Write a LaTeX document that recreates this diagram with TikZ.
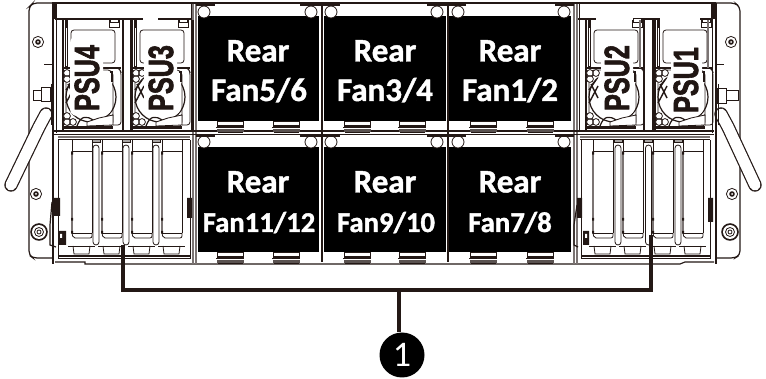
\documentclass[tikz,border=0pt]{standalone}
\usepackage{fontspec}
\setmainfont{Carlito}[BoldFeatures={FakeBold=1.2}]
\newfontfamily\psufont{Liberation Sans}[BoldFeatures={FakeBold=2.2}]
\definecolor{ink}{HTML}{231815}
\tikzset{
  thin ink/.style={draw=ink,line width=0.8pt},
  mid ink/.style={draw=ink,line width=1.2pt},
  grey ink/.style={draw=ink!60,line width=1.3pt},
  fanbox/.style={fill=black,draw=none,inner sep=0pt,minimum width=#1,minimum height=105pt,text=white},
  fantext/.style={fill=none,text=white,inner sep=0pt,anchor=base,font=\bfseries\fontsize{#1}{#1}\selectfont},
  psulabel/.style={rotate=90,inner sep=0pt,anchor=base,text=ink!90!black,font=\psufont\bfseries\fontsize{35}{35}\selectfont},
  leader/.style={draw=ink,line width=3.2pt},
  badge/.style={circle,fill=black,text=white,inner sep=0pt,minimum size=45pt,font=\fontsize{36}{36}\selectfont}
}
% PSU detail: #1 = left edge
\newcommand{\psubay}[1]{%
\begin{scope}[xshift=#1 pt]
  \draw[mid ink] (0,20)--(0,130);
  \fill[ink] (2,20) rectangle (5,68);
  \fill[white] (3,28) rectangle (4,66);
  \draw[thin ink,rounded corners=3pt] (8,30) rectangle (52,63);
  \draw[thin ink] (46,20)--(46,27)--(56,27)--(56,20);
  \draw[thin ink] (47,18) rectangle (55,22);
  \draw[line width=1.6pt,ink] (0,68)--(58,68);
  \draw[thin ink,rounded corners=5pt] (3,70) rectangle (50,127);
  \draw[mid ink] (28,97) circle (25pt);
  \fill[white,rounded corners=8pt] (12,71) rectangle (49,115);
  \draw[mid ink] (47,72)--(49,72)--(49,82);
  \draw[thin ink,fill=white] (4,73) circle (3.4pt) (10,73) circle (3.4pt) (4,79) circle (3.4pt);
  \draw[thin ink,fill=white] (4,122) circle (3.4pt) (10,122) circle (3.4pt) (4,116) circle (3.4pt);
  \draw[line width=1.4pt,ink] (3,103)--(12,86) (5,84)--(12,98) (3,90)--(10,80);
  \draw[mid ink] (14,126) .. controls (18,115) and (24,116) .. (30,120) .. controls (38,122) and (44,118) .. (50,115);
  \draw[thin ink,fill=white] (24,122) -- (36,118) -- (50,115)--(50,125)--(24,126)--cycle;
  \draw[thin ink,rounded corners=3pt] (50,68)--(56,68)--(58,72)--(58,125)--(50,125);
  \fill[ink] (1,126) rectangle (50,129.5);
\end{scope}}
% fan clips: #1 x, #2 y
\newcommand{\fanclip}[2]{%
  \draw[thin ink,fill=white] (#1,#2) rectangle ++(26,5.5);
  \fill[ink] (#1,#2+4.5) rectangle ++(26,2);
  \draw[thin ink] (#1-1,#2+6.5)--++(28,0) (#1+1,#2+11)--++(25,0);
  \fill[ink!75] (#1,#2+8.5) rectangle ++(27,2.5);
}
% drive bay: #1 card x list, #2 slot x list
\newcommand{\cards}[2]{%
  \foreach \u in {#1}{
    \draw[thin ink] (\u,140)--(\u,233) (\u+20,140)--(\u+20,233);
    \draw[grey ink] (\u,151)--(\u,233);
    \draw[thin ink] (\u,151)--(\u+20,151);
    \draw[thin ink,rounded corners=2pt] (\u,233)--(\u+1,238)--(\u+20,238)--(\u+20,233);
    \draw[thin ink] (\u,233)--(\u+20,233);
    \fill[ink] (\u-1,152) rectangle ++(2.2,2.6) (\u-1,218) rectangle ++(2.2,2.6) (\u-1,231) rectangle ++(2.2,2.6);
    \draw[thin ink] (\u-4,246)--(\u+23,246);
    \draw[thin ink] (\u+1,246)--(\u+2,254)--(\u+17,254)--(\u+18,246);
  }
  \foreach \u in {#2}{
    \draw[thin ink] (\u,148) arc[start angle=180,end angle=0,radius=3pt] -- (\u+6,242) arc[start angle=0,end angle=-180,radius=3pt] -- cycle;
    \draw[thin ink,fill=ink!40] (\u-1,139) rectangle ++(8,3);
  }
}
\begin{document}
\begin{tikzpicture}[x=1pt,y=-1pt]
\useasboundingbox (0,0) rectangle (766,379);
\fill[white] (0,0) rectangle (766,379);
% flanges
\draw[mid ink,rounded corners=4pt] (52,3)--(33,3)--(29,7)--(29,255)--(33,258)--(52,258);
\draw[mid ink,rounded corners=4pt] (716,3)--(735,3)--(740,7)--(740,255)--(735,258)--(716,258);
\draw[thin ink] (44,64)--(52,64) (716,64)--(724,64);
% handles
\draw[line width=13.4pt,ink,line cap=round] (46,114)--(39,127)--(11,185);
\draw[line width=11pt,white,line cap=round] (46,114)--(39,127)--(11,185);
\draw[line width=13.4pt,ink,line cap=round] (721,114)--(728,127)--(755,185);
\draw[line width=11pt,white,line cap=round] (721,114)--(728,127)--(755,185);
% flange screws
\foreach \p in {(38,42),(731,42),(36,194),(732,194)}{
  \draw[thin ink] \p circle (5.6pt);
  \fill[ink] \p circle (2.8pt);
  \fill[white] \p circle (1pt);
}
\foreach \p in {(39,232),(730,232)}{
  \fill[ink] \p circle (8.8pt);
  \fill[white] \p circle (7pt);
  \draw[thin ink] \p circle (4.5pt) \p circle (2pt);
}
% side connectors
\draw[thin ink] (33,90) rectangle (41,100) (41,87) rectangle (50,101);
\draw[thin ink] (717,88) rectangle (726,103) (726,90) rectangle (738,100);
% chassis
\draw[mid ink] (52,3)--(716,3);
\draw[line width=1.6pt,ink] (53,3)--(53,264) (716,3)--(716,264);
\draw[thin ink] (56,4)--(56,133) (712,4)--(712,133);
\draw[thin ink] (51,84)--(51,125) (718,84)--(718,125);
\fill[ink] (52,4) rectangle (56,19) (711,4) rectangle (715,19);
\draw[mid ink] (55,262)--(85,262)--(85,264)--(320,264)--(448,264)--(680,264)--(685,262)--(714,262);
% top of PSU compartments
\draw[mid ink] (55,19)--(143,19) (158,19)--(192,19);
\draw[mid ink] (578,19)--(596,19) (642,19)--(660,19) (700,19)--(712,19);
% left and right edges of the fans
\draw[grey ink] (193,4)--(193,264) (196,4)--(196,264);
\draw[grey ink] (574,4)--(574,264) (577,4)--(577,264);
\draw[thin ink] (191,4)--(191,131) (579,4)--(579,131);
% PSUs
\psubay{63}
\psubay{132}
\psubay{586}
\psubay{655}
% PSU bars
\draw[mid ink] (123,20)--(123,130) (131,20)--(131,130) (193,20)--(193,130);
\draw[mid ink] (644,20)--(644,130) (653,20)--(653,130);
\draw[grey ink] (640,20)--(640,68) (708,20)--(708,68);
% label backings
\foreach \a/\b in {70/103,144/177,601/633,671/702}{
  \fill[white,rounded corners=7pt] (\a,36) rectangle (\b,116);
}
% middle rail
\draw[line width=1.6pt,ink] (54,131)--(714,131);
\draw[thin ink] (54,134)--(714,134);
\draw[grey ink] (58,137)--(190,137) (580,137)--(710,137);
\draw[thin ink] (58,139.5)--(190,139.5) (580,139.5)--(710,139.5);
% fan blocks
\node[fanbox=121pt] (fanA) at (258.5,68.5) {};
\node[fanbox=122pt] (fanB) at (385,68.5) {};
\node[fanbox=122pt] (fanC) at (510,68.5) {};
\node[fanbox=121pt] (fanD) at (258.5,199.5) {};
\node[fanbox=122pt] (fanE) at (385,199.5) {};
\node[fanbox=122pt] (fanF) at (510,199.5) {};
\node[fantext=33] (t1a) at (258,61.5) {Rear};
\node[fantext=33] (t1b) at (259,101) {Fan5/6};
\node[fantext=33] (t2a) at (385,61.5) {Rear};
\node[fantext=33] (t2b) at (385,101) {Fan3/4};
\node[fantext=33] (t3a) at (510,61.5) {Rear};
\node[fantext=33] (t3b) at (510,101) {Fan1/2};
\node[fantext=33] (t4a) at (258,192.5) {Rear};
\node[fantext=28.7] (t4b) at (259,232) {Fan11/12};
\node[fantext=33] (t5a) at (385,192.5) {Rear};
\node[fantext=28.7] (t5b) at (386,232) {Fan9/10};
\node[fantext=33] (t6a) at (510,192.5) {Rear};
\node[fantext=28.7] (t6b) at (510,232) {Fan7/8};
% corner circles and tabs
\foreach \y in {12,142}{
  \foreach \x in {204,311,331,437,458,564}{
    \draw[thin ink,fill=white] (\x,\y) circle (6pt);
  }
}
\foreach \y in {4,135}{
  \foreach \a/\b in {196/215,300/340,427/466,555/574}{
    \draw[mid ink] (\a,\y+1)--(\b,\y+1);
  }
}
% fan dividers
\draw[line width=2.6pt,ink] (322,3)--(322,262) (448,3)--(448,262);
% clips
\foreach \x in {217,273,344,399,470,527}{
  \fanclip{\x}{121}
  \fanclip{\x}{252}
}
% drive bays
\draw[thin ink] (58,140)--(58,258)--(190,258)--(190,140);
\draw[thin ink] (581,140)--(581,258)--(710,258)--(710,140);
\draw[mid ink] (58,256)--(190,256) (581,256)--(710,256);
\cards{72,102,132,162}{93,123,153}
\cards{593,623,653,683}{615,645.5,675}
% bay latches
\fill[ink] (54,198) rectangle (60,216) (187,198) rectangle (192,218) (577,198) rectangle (582,218) (708,198) rectangle (713,222);
\draw[mid ink] (52,202)--(50,225)--(50,245)--(56,247);
\draw[mid ink] (577,205)--(574,225)--(574,245)--(578,247);
\fill[ink] (58,231) rectangle (66,245) (583,231) rectangle (589,245);
\fill[white] (60,234) rectangle (62,238) (585,234) rectangle (587,238);
% leaders
\coordinate (tapL) at (123,245);
\coordinate (tapR) at (651,235);
\coordinate (join) at (399,290);
\node[badge] (callout) at (402,355) {1};
\draw[leader] (tapL) |- (join) -| (tapR);
\draw[leader] (join) -- (callout.north -| join);
% PSU labels
\node[psulabel] (p4) at (99,78) {\scalebox{0.72}[1]{PSU4}};
\node[psulabel] (p3) at (173,78) {\scalebox{0.72}[1]{PSU3}};
\node[psulabel] (p2) at (629,78) {\scalebox{0.72}[1]{PSU2}};
\node[psulabel] (p1) at (698,80) {\scalebox{0.72}[1]{PSU1}};
\end{tikzpicture}
\end{document}
